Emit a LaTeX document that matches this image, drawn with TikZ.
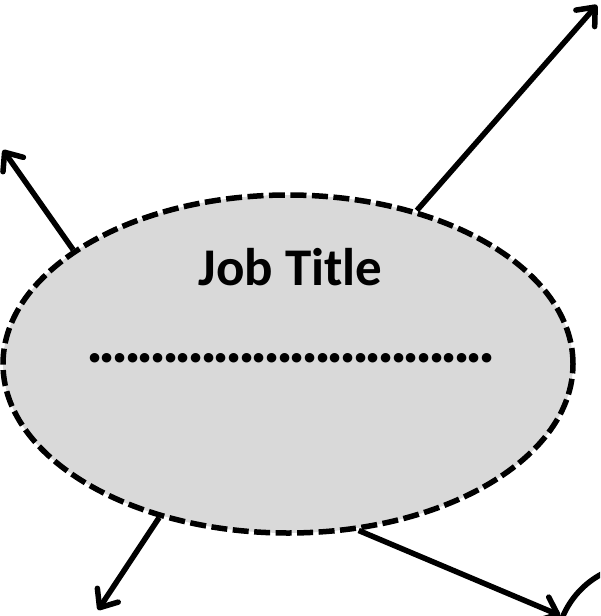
\documentclass[tikz,border=0pt]{standalone}
\usepackage{fontspec}
\setmainfont{Carlito}
\usetikzlibrary{shapes.geometric,arrows.meta}
\definecolor{ellfill}{HTML}{D9D9D9}
\newcommand\fixeddot{\makebox[12.66pt]{.}}
\begin{document}
\begin{tikzpicture}[x=1pt,y=-1pt,
  conn/.style={line width=5.5pt, -{Straight Barb[length=15pt,width=25pt,line cap=round,line join=round]}},
  jobell/.style={ellipse, draw, line width=5.5pt, dash pattern=on 16pt off 5.5pt, fill=ellfill, minimum width=570pt, minimum height=338pt, inner sep=0pt},
  titletext/.style={font=\bfseries\fontsize{53}{60}\selectfont, anchor=base, inner sep=0pt},
  dottext/.style={font=\bfseries\fontsize{64}{70}\selectfont, anchor=center, inner sep=0pt}
]
\useasboundingbox (0,0) rectangle (600,616);
\clip (0,0) rectangle (600,616);
\node[jobell] (job) at (288,364) {};
\node[titletext] (title) at (290.5,285.5) {Job Title};
\node[dottext] (dots) at (291.1,358.3) {\foreach \k in {1,...,32}{\fixeddot}};
\node[circle, draw, line width=5.5pt, minimum size=172pt, inner sep=0pt] (other) at (642,650) {};
\coordinate (t1) at (3,150);
\coordinate (t2) at (597,5);
\coordinate (t3) at (98,610);
\draw[conn] (job.152.6) -- (t1);
\draw[conn] (job.50.6) -- (t2);
\draw[conn] (job.230.4) -- (t3);
\draw[conn] (job.293.6) -- (other);
\end{tikzpicture}
\end{document}
